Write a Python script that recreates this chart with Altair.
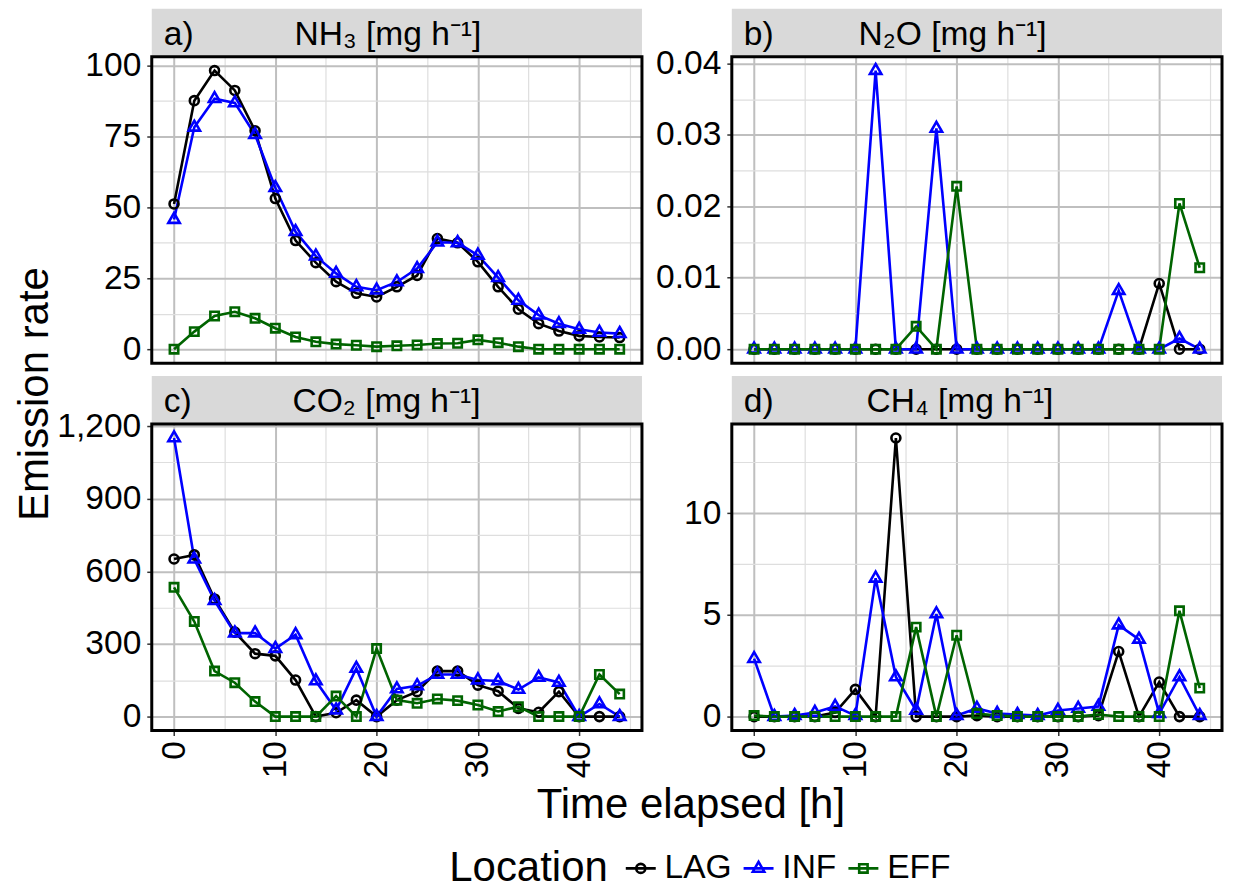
import altair as alt
import pandas as pd

# ---------------- data ----------------
times = [0, 2, 4, 6, 8, 10, 12, 14, 16, 18, 20, 22, 24, 26, 28, 30, 32, 34, 36, 38, 40, 42, 44]
locations = ["LAG", "INF", "EFF"]
colors = ["#000000", "#0000FF", "#006400"]

nh3_lag = [51.2, 87.6, 98.2, 91.2, 77.0, 53.1, 38.3, 30.5, 23.8, 19.7, 18.4, 22.0, 26.0, 39.0, 37.5, 30.8, 22.0, 14.1, 9.0, 6.4, 4.7, 4.3, 4.1]
nh3_inf = [45.7, 78.2, 88.3, 86.8, 75.6, 56.9, 41.4, 32.8, 26.7, 22.0, 20.8, 23.7, 28.4, 37.7, 37.5, 33.1, 25.2, 17.2, 12.0, 9.0, 7.0, 5.9, 5.5]
nh3_eff = [0.0, 6.2, 11.7, 13.2, 10.9, 7.4, 4.3, 2.6, 1.8, 1.4, 0.9, 1.2, 1.5, 2.0, 2.1, 3.3, 2.3, 0.9, 0.0, 0.0, 0.0, 0.0, 0.0]

n2o_lag = [0, 0, 0, 0, 0, 0, 0, 0, 0, 0, 0, 0, 0, 0, 0, 0, 0, 0, 0, 0, 0.0092, 0, 0]
n2o_inf = [0, 0, 0, 0, 0, 0, 0.039, 0, 0, 0.0309, 0, 0, 0, 0, 0, 0, 0, 0, 0.0082, 0, 0, 0.0015, 0]
n2o_eff = [0, 0, 0, 0, 0, 0, 0, 0, 0.0032, 0, 0.0228, 0, 0, 0, 0, 0, 0, 0, 0, 0, 0, 0.0204, 0.0114]

co2_lag = [651, 668, 486, 349, 260, 251, 151, 0, 16, 68, 0, 68, 103, 188, 188, 130, 105, 34, 18, 103, 0, 0, 0]
co2_inf = [1151, 650, 479, 345, 345, 281, 338, 147, 27, 199, 0, 114, 127, 174, 174, 151, 147, 112, 162, 141, 0, 52, 0]
co2_eff = [534, 393, 188, 140, 62, 0, 0, 0, 85, 0, 281, 68, 55, 73, 66, 48, 21, 41, 0, 0, 0, 174, 93]

ch4_lag = [0, 0, 0, 0, 0.2, 1.34, 0, 13.7, 0, 0, 0, 0.05, 0, 0, 0, 0, 0, 0.05, 3.2, 0, 1.7, 0, 0]
ch4_inf = [2.85, 0.0, 0.05, 0.2, 0.5, 0.05, 6.8, 1.95, 0.3, 5.05, 0.05, 0.4, 0.15, 0.1, 0.05, 0.3, 0.4, 0.5, 4.5, 3.8, 0.15, 1.95, 0.05]
ch4_eff = [0.05, 0, 0, 0, 0, 0, 0, 0, 4.4, 0, 4.0, 0.15, 0.05, 0, 0, 0, 0, 0.1, 0, 0, 0, 5.2, 1.4]

gases = ["NH3", "N2O", "CO2", "CH4"]
panel_tags = ["a)", "b)", "c)", "d)"]
panel_titles = ["NH₃ [mg h⁻¹]", "N₂O [mg h⁻¹]", "CO₂ [mg h⁻¹]", "CH₄ [mg h⁻¹]"]
series = {
    "NH3": [nh3_lag, nh3_inf, nh3_eff],
    "N2O": [n2o_lag, n2o_inf, n2o_eff],
    "CO2": [co2_lag, co2_inf, co2_eff],
    "CH4": [ch4_lag, ch4_inf, ch4_eff],
}

x_major = [0, 10, 20, 30, 40]
x_minor = [5, 15, 25, 35, 45]
y_major = {
    "NH3": [0, 25, 50, 75, 100],
    "N2O": [0, 0.01, 0.02, 0.03, 0.04],
    "CO2": [0, 300, 600, 900, 1200],
    "CH4": [0, 5, 10],
}
y_minor = {
    "NH3": [12.5, 37.5, 62.5, 87.5],
    "N2O": [0.005, 0.015, 0.025, 0.035],
    "CO2": [150, 450, 750, 1050],
    "CH4": [2.5, 7.5, 12.5],
}
y_format = {"NH3": "d", "N2O": ".2f", "CO2": ",d", "CH4": "d"}

y_title = "Emission rate"
x_title = "Time elapsed [h]"
legend_title = "Location"

rows = []
for g in gases:
    for loc, vals in zip(locations, series[g]):
        for t, v in zip(times, vals):
            rows.append({"gas": g, "Location": loc, "time": t, "value": v})
df = pd.DataFrame(rows)

# ---------------- style ----------------
FONT = "Liberation Sans"
W, H = 491, 307
STRIP_H = 48
TICK_FS = 33.6
MAJOR_C, MINOR_C = "#bfbfbf", "#dedede"
SW = 2.6

circle_path = "M0.3,0A0.3,0.3,0,1,1,-0.3,0A0.3,0.3,0,1,1,0.3,0Z"
triangle_path = "M0,-0.44L0.381,0.22L-0.381,0.22Z"
square_path = "M-0.28,-0.28L0.28,-0.28L0.28,0.28L-0.28,0.28Z"
shapes = [circle_path, triangle_path, square_path]
legend_shapes = ["M-1,0L1,0" + p for p in shapes]

title_x = {"NH3": 143, "N2O": 127, "CO2": 141, "CH4": 135}

LX, LY = 298, 796


def cond(test, a, b):
    return {"condition": {"test": test, "value": a}, "value": b}


def make_legend():
    return alt.Legend(
        orient="none", legendX=LX, legendY=LY, direction="horizontal",
        title=legend_title, titleOrient="left", titleFontSize=42, titleFont=FONT,
        titleFontWeight="normal", titleColor="black", titlePadding=16,
        titleBaseline="middle",
        labelFontSize=TICK_FS, labelFont=FONT, labelColor="black", labelOffset=7,
        columnPadding=6, symbolSize=900, symbolStrokeWidth=SW, symbolOpacity=1, padding=0,
    )


def panel(i):
    g = gases[i]
    bottom = i >= 2
    d = df[df.gas == g]
    vmin, vmax = d.value.min(), d.value.max()
    r = vmax - vmin
    ydom = [vmin - 0.05 * r, vmax + 0.05 * r]
    tr = max(times) - min(times)
    xdom = [min(times) - 0.05 * tr, max(times) + 0.05 * tr]

    tx = f"indexof({x_major}, datum.value) >= 0"
    ty = f"indexof({y_major[g]}, datum.value) >= 0"

    x_axis = alt.Axis(
        values=x_major + x_minor, title=None, labels=bottom, ticks=bottom, domain=False, grid=True,
        gridColor=cond(tx, MAJOR_C, MINOR_C), gridWidth=cond(tx, 2, 1.2),
        tickOpacity=cond(tx, 1, 0), labelExpr=f"{tx} ? datum.label : ''",
        labelAngle=270, labelAlign="right", labelBaseline="middle",
        labelFontSize=TICK_FS, labelFont=FONT, labelColor="black", labelPadding=5,
        tickSize=5, tickColor="#333333", tickWidth=1.5, labelOverlap=False, labelFlush=False,
    )
    y_axis = alt.Axis(
        values=y_major[g] + y_minor[g], title=None, domain=False, grid=True, format=y_format[g],
        gridColor=cond(ty, MAJOR_C, MINOR_C), gridWidth=cond(ty, 2, 1.2),
        tickOpacity=cond(ty, 1, 0), labelExpr=f"{ty} ? datum.label : ''",
        labelFontSize=TICK_FS, labelFont=FONT, labelColor="black", labelPadding=6,
        tickSize=5, tickColor="#333333", tickWidth=1.5, labelOverlap=False, labelFlush=False,
    )
    xenc = alt.X("time:Q", scale=alt.Scale(domain=xdom, nice=False, zero=False), axis=x_axis)
    yenc = alt.Y("value:Q", scale=alt.Scale(domain=ydom, nice=False, zero=False), axis=y_axis)

    # line colours via the stroke channel (sort-based domain so its disabled legend is not merged)
    lines = alt.Chart(d).mark_line(strokeWidth=SW).encode(
        x=xenc, y=yenc,
        stroke=alt.Stroke("Location:N", sort=locations, scale=alt.Scale(range=colors), legend=None),
    )
    point_layers = [
        alt.Chart(d).transform_filter(alt.datum.Location == loc).mark_point(
            shape=shp, color=col, filled=False, size=900, strokeWidth=SW, opacity=1
        ).encode(x=xenc, y=yenc)
        for loc, col, shp in zip(locations, colors, shapes)
    ]

    meta = pd.DataFrame({"tag": [panel_tags[i]], "title": [panel_titles[i]]})
    strip = alt.Chart(meta).mark_rect(color="#d9d9d9").encode(
        x=alt.value(0), x2=alt.value(W), y=alt.value(-STRIP_H), y2=alt.value(0))
    tag = alt.Chart(meta).mark_text(align="left", baseline="alphabetic", fontSize=TICK_FS,
                                    font=FONT, color="black").encode(
        x=alt.value(12), y=alt.value(-12), text="tag:N")
    ttl = alt.Chart(meta).mark_text(align="left", baseline="alphabetic", fontSize=TICK_FS,
                                    font=FONT, color="black").encode(
        x=alt.value(title_x[g]), y=alt.value(-12), text="title:N")
    border = alt.Chart(meta).mark_rect(fillOpacity=0, stroke="black", strokeWidth=3).encode(
        x=alt.value(0), x2=alt.value(W), y=alt.value(0), y2=alt.value(H))

    # invisible layer that only carries the legend (symbols: line + marker)
    legend_layer = alt.Chart(d).mark_point(filled=False, size=900).encode(
        x=xenc, y=yenc, opacity=alt.value(0),
        color=alt.Color("Location:N", scale=alt.Scale(domain=locations, range=colors),
                        legend=make_legend()),
        shape=alt.Shape("Location:N", scale=alt.Scale(domain=locations, range=legend_shapes),
                        legend=make_legend()),
    )

    layers = [strip, tag, ttl, lines, legend_layer] + point_layers + [border]
    if i == 0:
        yt = pd.DataFrame({"label": [y_title]})
        layers.append(alt.Chart(yt).mark_text(angle=270, align="center", baseline="middle",
                                              fontSize=42, font=FONT, color="black").encode(
            x=alt.value(-117), y=alt.value(338), text="label:N"))
    if i == 2:
        xt = pd.DataFrame({"label": [x_title]})
        layers.append(alt.Chart(xt).mark_text(align="center", baseline="alphabetic",
                                              fontSize=42, font=FONT, color="black").encode(
            x=alt.value(540), y=alt.value(395), text="label:N"))
    return alt.layer(*layers).properties(width=W, height=H)


chart = alt.concat(
    *[panel(i) for i in range(4)], columns=2, spacing={"row": 61, "column": 90}, bounds="flush"
).properties(
    padding={"left": 6, "top": 0, "right": 0, "bottom": 0}
).configure(font=FONT).configure_view(strokeWidth=0)

chart.save("out.html", embed_options={"renderer": "svg", "actions": False})
